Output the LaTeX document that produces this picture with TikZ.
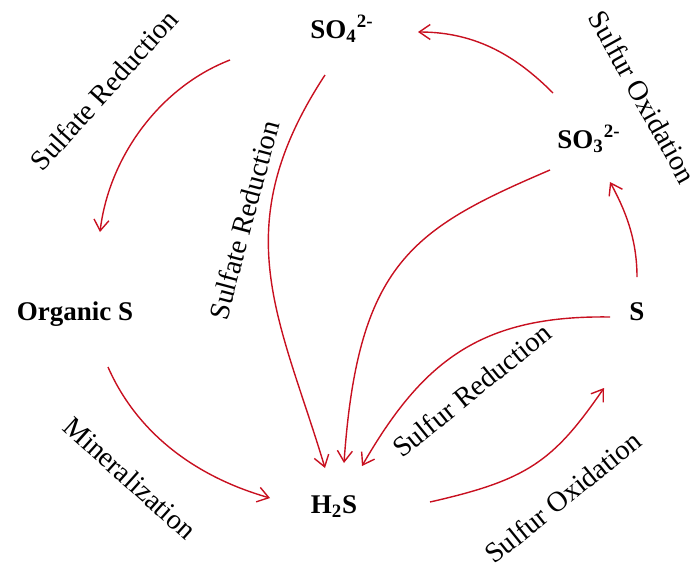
\documentclass[tikz,border=0pt]{standalone}
\usepackage{fontspec}
\setmainfont{Liberation Serif}
\usetikzlibrary{arrows.meta,calc}
\definecolor{CycleRed}{RGB}{200,16,32}

\begin{document}
\begin{tikzpicture}[x=0.5pt, y=-0.5pt,
    species/.style={font=\fontsize{13.5}{16}\selectfont\bfseries, inner sep=0pt, anchor=base},
    process/.style={font=\fontsize{14.2}{17}\selectfont, inner sep=0pt},
    flow/.style={-{Straight Barb[length=5.5pt,width=7.5pt]}, CycleRed, line width=0.7pt}]
  \useasboundingbox (0,0) rectangle (696,568);

  % sulfur species
  \node[species] (so4)  at (342,38)  {SO\textsubscript{4}\textsuperscript{2-}};
  \node[species] (so3)  at (589,148) {SO\textsubscript{3}\textsuperscript{2-}};
  \node[species] (orgs) at (75,320)  {Organic S};
  \node[species] (s)    at (637,320) {S};
  \node[species] (h2s)  at (334,513) {H\textsubscript{2}S};

  % transformations
  \draw[flow] ($(so4.base)+(-112,22)$) .. controls (160,87) and (109,157) .. ($(orgs.base)+(25,-88)$);
  \draw[flow] ($(so4.base)+(-17,37)$) .. controls (224,229) and (280,318) .. ($(h2s.base)+(-9,-45)$);
  \draw[flow] ($(so3.base)+(-39,22)$) .. controls (412,229) and (358,263) .. ($(h2s.base)+(10,-50)$);
  \draw[flow] ($(s.base)+(-27,-3)$) .. controls (480,315) and (422,362) .. ($(h2s.base)+(28,-47)$);
  \draw[flow] ($(s.base)+(0,-43)$) .. controls (637,237) and (624,208) .. ($(so3.base)+(21,34)$);
  \draw[flow] ($(so3.base)+(-36,-55)$) .. controls (518,58) and (478,32) .. ($(so4.base)+(76,-6)$);
  \draw[flow] ($(orgs.base)+(33,47)$) .. controls (136,431) and (193,476) .. ($(h2s.base)+(-64,-15)$);
  \draw[flow] ($(h2s.base)+(96,-11)$) .. controls (527,480) and (553,462) .. ($(s.base)+(-33,68)$);

  % process labels
  \node[process, rotate=48]  (sr1) at (104,90)  {Sulfate Reduction};
  \node[process, rotate=75]  (sr2) at (244,220) {Sulfate Reduction};
  \node[process, rotate=-61] (so1) at (643,97)  {Sulfur Oxidation};
  \node[process, rotate=39]  (sur) at (472,390) {Sulfur Reduction};
  \node[process, rotate=-42] (min) at (130,478) {Mineralization};
  \node[process, rotate=39]  (so2) at (563,497) {Sulfur Oxidation};
\end{tikzpicture}
\end{document}
